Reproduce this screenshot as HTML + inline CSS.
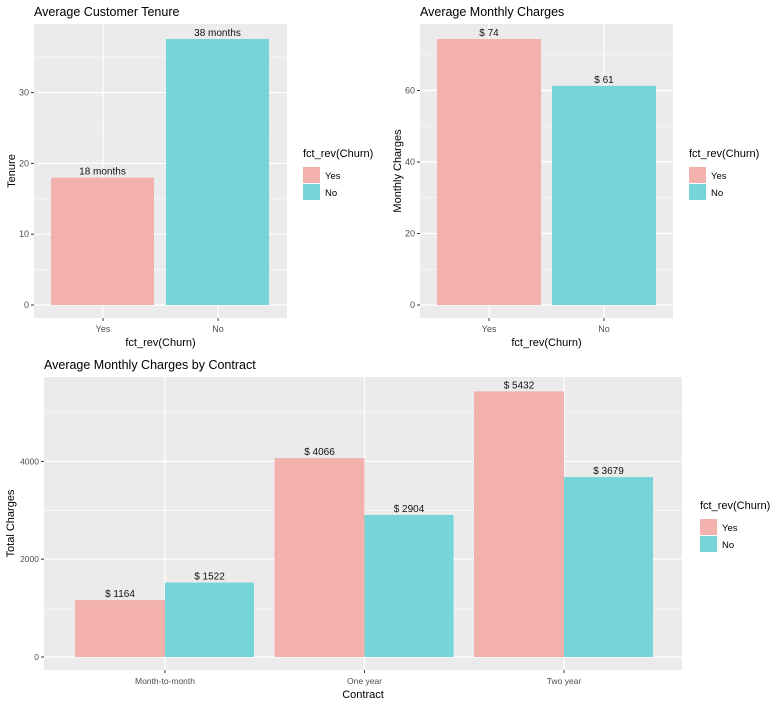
<!DOCTYPE html>
<html><head><meta charset="utf-8"><style>
body{margin:0;background:#fff;width:773px;height:705px;overflow:hidden}
svg{display:block;font-family:"Liberation Sans",sans-serif}
</style></head><body>
<svg id="c" width="773" height="705" xmlns="http://www.w3.org/2000/svg"></svg>
<script>
const churnCats = ["Yes","No"];
const tenureValues = [17.98, 37.57];
const tenureLabels = ["18 months","38 months"];
const tenureTicks = [0,10,20,30];
const monthlyValues = [74.4, 61.3];
const monthlyLabels = ["$ 74","$ 61"];
const monthlyTicks = [0,20,40,60];
const contractCats = ["Month-to-month","One year","Two year"];
const contractYes = [1164, 4066, 5432];
const contractNo = [1522, 2904, 3679];
const contractTicks = [0,2000,4000];
const colors = {Yes:"#f2b1ad", No:"#76d5d8"};

const svg = document.getElementById('c');
const NS = "http://www.w3.org/2000/svg";
function el(tag, attrs, parent, text){
  const e = document.createElementNS(NS, tag);
  for (const k in attrs) e.setAttribute(k, attrs[k]);
  if (text !== undefined) e.textContent = text;
  (parent||svg).appendChild(e);
  return e;
}

function panel(o){
  const g = el('g', {});
  
  
  const y = v => o.y0 - v * o.pxPerUnit;
  const bg = el('rect', {x:o.x1, y:o.top, width:o.x2-o.x1, height:o.bottom-o.top, fill:'#ebebeb'}, g);
  
  
  // minor grid
  for (let i=0;i<o.ticks.length;i++){
    const mv = o.ticks[i] + o.step/2;
    if (y(mv) > o.top) el('line',{x1:o.x1,x2:o.x2,y1:y(mv),y2:y(mv),stroke:'#fff','stroke-width':0.6},g);
  }
  o.ticks.forEach(t=>{
    el('line',{x1:o.x1,x2:o.x2,y1:y(t),y2:y(t),stroke:'#fff','stroke-width':1.2},g);
    el('line',{x1:o.x1-3,x2:o.x1,y1:y(t),y2:y(t),stroke:'#333','stroke-width':1},g);
    const tl = el('text',{x:o.x1-5,y:y(t)+3,'text-anchor':'end','font-size':o.tickFont,fill:'#4d4d4d'},g,String(t));
    
    
  });
  o.centers.forEach((cx,i)=>{
    el('line',{x1:cx,x2:cx,y1:o.top,y2:o.bottom,stroke:'#fff','stroke-width':1.2},g);
    el('line',{x1:cx,x2:cx,y1:o.bottom,y2:o.bottom+3,stroke:'#333','stroke-width':1},g);
    const xl = el('text',{x:cx,y:o.bottom+14,'text-anchor':'middle','font-size':o.tickFont,fill:'#4d4d4d'},g,o.cats[i]);
    
    
  });
  o.bars.forEach(b=>{
    const r = el('rect',{x:b.x,y:y(b.v),width:b.w,height:o.y0-y(b.v),fill:b.c},g);
    
    
    const t = el('text',{x:b.x+b.w/2,y:y(b.v)-3,'text-anchor':'middle','font-size':10,fill:'#111'},g,b.label);
    
    
  });
  const ti = el('text',{x:o.x1,y:o.top-8,'font-size':12.5,fill:'#000'},g,o.title);
  
  
  const xt = el('text',{x:(o.x1+o.x2)/2,y:o.bottom+28,'text-anchor':'middle','font-size':11,fill:'#000'},g,o.xTitle);
  
  
  const yt = el('text',{x:0,y:0,'text-anchor':'middle','font-size':11,fill:'#000',transform:`translate(${o.yTitleX},${(o.top+o.bottom)/2}) rotate(-90)`},g,o.yTitle);
  
  
  // legend
  const lg = el('g',{},g);
  
  
  el('text',{x:o.lx,y:o.ly,'font-size':11,fill:'#000'},lg,'fct_rev(Churn)');
  churnCats.forEach((c,i)=>{
    const k = el('rect',{x:o.lx,y:o.ly+10+i*17,width:17,height:16,fill:colors[c]},lg);
    
    
    const lt = el('text',{x:o.lx+22,y:o.ly+22+i*17,'font-size':9.5,fill:'#000'},lg,c);
    
    
  });
}

// Panel 1
panel({name:'tenure-chart',title:'Average Customer Tenure',xTitle:'fct_rev(Churn)',yTitle:'Tenure',
  x1:34,x2:287,top:24,bottom:318,y0:305,pxPerUnit:7.08,step:10,ticks:tenureTicks,tickFont:9,
  cats:churnCats,centers:[103,218],yTitleX:15,lx:303,ly:157,
  bars:churnCats.map((c,i)=>({id:'tenure-'+c.toLowerCase(),x:[51,166][i],w:103,v:tenureValues[i],c:colors[c],label:tenureLabels[i]}))});

// Panel 2
panel({name:'monthly-charges-chart',title:'Average Monthly Charges',xTitle:'fct_rev(Churn)',yTitle:'Monthly Charges',
  x1:420,x2:673,top:24,bottom:318,y0:305,pxPerUnit:3.575,step:20,ticks:monthlyTicks,tickFont:9,
  cats:churnCats,centers:[489,604],yTitleX:401,lx:689,ly:157,
  bars:churnCats.map((c,i)=>({id:'monthly-'+c.toLowerCase(),x:[437,552][i],w:104,v:monthlyValues[i],c:colors[c],label:monthlyLabels[i]}))});

// Panel 3
const centers3 = contractCats.map((c,i)=>165+i*199.5);
const bars3 = [];
contractCats.forEach((c,i)=>{
  bars3.push({id:'contract-'+i+'-yes',x:centers3[i]-90,w:90,v:contractYes[i],c:colors.Yes,label:'$ '+contractYes[i]});
  bars3.push({id:'contract-'+i+'-no',x:centers3[i],w:89,v:contractNo[i],c:colors.No,label:'$ '+contractNo[i]});
});
panel({name:'contract-chart',title:'Average Monthly Charges by Contract',xTitle:'Contract',yTitle:'Total Charges',
  x1:44,x2:682,top:377,bottom:670,y0:657,pxPerUnit:0.0489,step:2000,ticks:contractTicks,tickFont:8.5,
  cats:contractCats,centers:centers3,yTitleX:14,lx:700,ly:509,
  bars:bars3});
</script>
</body></html>
